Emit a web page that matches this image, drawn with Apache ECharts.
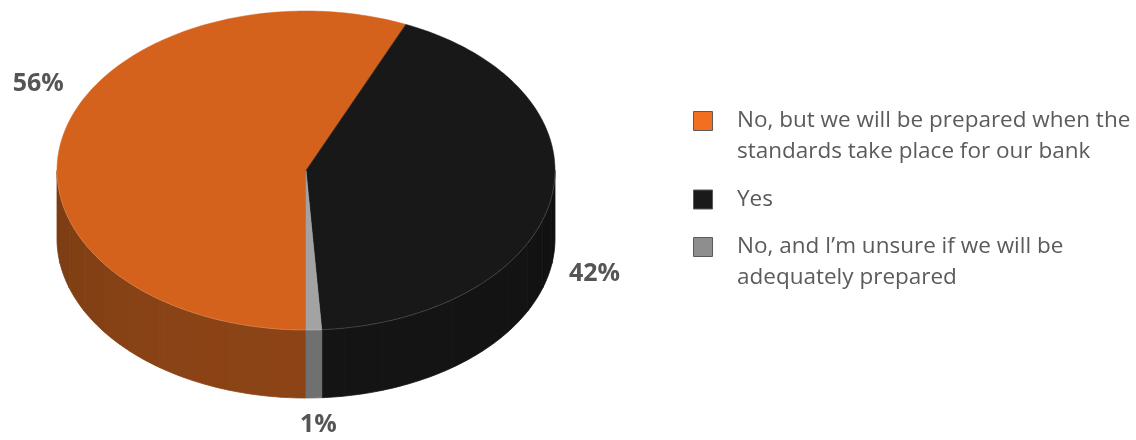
<!DOCTYPE html>
<html><head><meta charset="utf-8">
<script src="https://cdn.jsdelivr.net/npm/echarts@6/dist/echarts.min.js"></script>
<style>html,body{margin:0;padding:0;background:#fff}#chart{width:1136px;height:440px}</style>
</head><body><div id="chart"></div>
<script>
// ---- data ----
const categories = [
  'No, but we will be prepared when the\nstandards take place for our bank',
  'Yes',
  'No, and I\u2019m unsure if we will be\nadequately prepared'
];
const values = [56, 42, 1];
const topColors = ['#d4621d', '#181818', '#a3a3a3'];
const sideColors = ['#8c4416', '#141414', '#707070'];
const legendColors = ['#f26f21', '#1a1a1a', '#8e8e8e'];

// ---- layout ----
const PIE = {cx: 306, cy: 170.5, rx: 249, ry: 159.5, depth: 68, start: 180};
const LABEL_NUDGE = [[19, -45], [0, 0], [3, -17]];
const LEGEND = {x: 693, textX: 737, y0: 121, line: 31, gap: 47.5, box: 20};

const total = values.reduce((a, b) => a + b, 0);
const spans = [];
let acc = PIE.start;
values.forEach(v => { const s = v / total * 360; spans.push([acc, acc + s]); acc += s; });

function pt(deg, dz) {
  const r = deg * Math.PI / 180;
  return [PIE.cx + PIE.rx * Math.sin(r), PIE.cy - PIE.ry * Math.cos(r) + (dz || 0)];
}
function arc(a0, a1, dz) {
  const n = Math.max(2, Math.ceil(Math.abs(a1 - a0)));
  const pts = [];
  for (let k = 0; k <= n; k++) pts.push(pt(a0 + (a1 - a0) * k / n, dz));
  return pts;
}
function shade(hex, f) {
  const n = parseInt(hex.slice(1), 16);
  const r = Math.round(((n >> 16) & 255) * f), g = Math.round(((n >> 8) & 255) * f), b = Math.round((n & 255) * f);
  return 'rgb(' + r + ',' + g + ',' + b + ')';
}

function renderItem(params, api) {
  const i = params.dataIndex;
  const a0 = spans[i][0], a1 = spans[i][1];
  const children = [];
  [[90, 270], [450, 630], [-270, -90]].forEach(([v0, v1]) => {
    const s0 = Math.max(a0, v0), s1 = Math.min(a1, v1);
    if (s1 <= s0) return;
    const step = 9;
    let b = s0;
    while (b < s1 - 1e-6) {
      const e = Math.min(s1, b + step);
      const mid = (b + e) / 2;
      const f = 0.87 + 0.13 * Math.max(0, -Math.cos(mid * Math.PI / 180));
      const c = shade(sideColors[i], f);
      const pts = arc(b, e, 0).concat(arc(e, b, PIE.depth));
      children.push({type: 'polygon', z2: 1, shape: {points: pts}, style: {fill: c, stroke: c, lineWidth: 0.8}});
      b = e;
    }
    children.push({type: 'polyline', z2: 6, shape: {points: arc(s0, s1, 0)},
      style: {fill: null, stroke: 'rgba(255,255,255,0.16)', lineWidth: 1}});
  });
  const topPts = [[PIE.cx, PIE.cy]].concat(arc(a0, a1, 0));
  children.push({type: 'polygon', z2: 5, shape: {points: topPts},
    style: {fill: topColors[i], stroke: topColors[i], lineWidth: 0.5}});
  const mid = (a0 + a1) / 2, mr = mid * Math.PI / 180;
  const lx = PIE.cx + (PIE.rx + 44) * Math.sin(mr) + LABEL_NUDGE[i][0];
  const ly = PIE.cy - (PIE.ry + 44) * Math.cos(mr) + (Math.cos(mr) < 0 ? PIE.depth : 0) + LABEL_NUDGE[i][1];
  children.push({type: 'text', z2: 10, style: {text: api.value(0) + '%', x: lx, y: ly, align: 'center',
    verticalAlign: 'middle', font: 'bold 25px "Open Sans"', fill: '#555555'}});
  return {type: 'group', children: children};
}

const legendEls = [];
let ly = LEGEND.y0;
categories.forEach((name, i) => {
  const lines = name.split('\n').length;
  legendEls.push({type: 'rect', left: null, shape: {x: LEGEND.x + 0.5, y: ly - LEGEND.box / 2 + 0.5, width: LEGEND.box - 1, height: LEGEND.box - 1},
    style: {fill: legendColors[i], stroke: '#5a5a5a', lineWidth: 1}});
  legendEls.push({type: 'text', style: {text: name, x: LEGEND.textX, y: ly - LEGEND.line / 2, align: 'left', verticalAlign: 'top',
    lineHeight: LEGEND.line, font: '22.5px "Open Sans"', fill: '#5b5b5b'}});
  ly += (lines - 1) * LEGEND.line + LEGEND.gap;
});

const chart = echarts.init(document.getElementById('chart'), null, {renderer: 'canvas'});
chart.setOption({
  animation: false,
  backgroundColor: '#ffffff',
  graphic: legendEls,
  series: [{
    type: 'custom',
    coordinateSystem: 'none',
    silent: true,
    renderItem: renderItem,
    data: values.map((v, i) => ({name: categories[i], value: v}))
  }]
});
</script></body></html>
